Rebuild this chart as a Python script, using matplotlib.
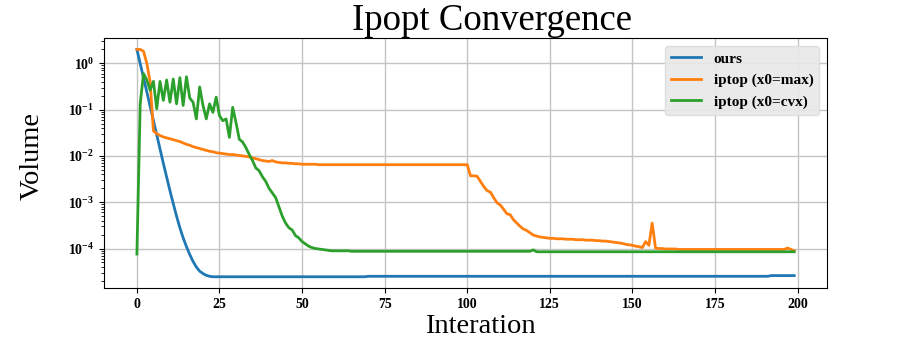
import numpy as np
import matplotlib
matplotlib.use('Agg')
import matplotlib.pyplot as plt

plt.rcParams['font.family'] = ['Liberation Serif', 'DejaVu Serif']
plt.rcParams['mathtext.fontset'] = 'custom'
plt.rcParams['mathtext.rm'] = 'Liberation Serif:bold'
plt.rcParams['mathtext.bf'] = 'Liberation Serif:bold'
plt.rcParams['mathtext.it'] = 'Liberation Serif:bold:italic'
plt.rcParams['mathtext.default'] = 'bf'

# 数据 (log10 of volume)
iters = np.arange(200)

ours_exp = [0.30, 0.00, -0.31, -0.62, -0.93, -1.24, -1.55, -1.86, -2.16, -2.46,
            -2.75, -3.03, -3.30, -3.55, -3.77, -3.96, -4.13, -4.28, -4.40, -4.49,
            -4.54, -4.58, -4.60, -4.61] \
           + [-4.61] * 46 + [-4.60] * 122 + [-4.585] * 8

xmax_exp = [0.30, 0.30, 0.26, 0.00, -0.40, -1.46, -1.52, -1.56, -1.59, -1.61,
            -1.63, -1.65, -1.67, -1.69, -1.72, -1.75, -1.77, -1.80, -1.82, -1.84,
            -1.86, -1.88, -1.90, -1.91, -1.93, -1.94, -1.95, -1.96, -1.97, -1.97,
            -1.98, -1.99, -2.00, -2.01, -2.02, -2.04, -2.06, -2.08, -2.10, -2.11,
            -2.12, -2.10, -2.13, -2.14, -2.15, -2.15, -2.16, -2.16, -2.17, -2.17,
            -2.18] \
           + [-2.18] * 4 + [-2.19] * 46 \
           + [-2.43, -2.43, -2.44, -2.55, -2.66, -2.75, -2.78, -2.90, -3.01, -3.06,
              -3.15, -3.25, -3.27, -3.38, -3.45, -3.52, -3.58, -3.61, -3.66, -3.71,
              -3.73, -3.75, -3.76, -3.77, -3.78] \
           + [-3.78, -3.79, -3.79, -3.79, -3.80, -3.80, -3.80, -3.81, -3.81, -3.81,
              -3.82, -3.82, -3.82, -3.83, -3.83, -3.84, -3.84, -3.85, -3.86, -3.87,
              -3.88, -3.89, -3.91, -3.92, -3.93, -3.95, -3.96, -3.98] \
           + [-3.85, -3.93, -3.45, -3.99, -4.00, -4.00, -4.01, -4.01, -4.01, -4.01,
              -4.02, -4.02] \
           + [-4.02] * 31 + [-3.99, -4.02, -4.05]

xcvx_exp = [-4.12, -0.875, -0.22, -0.36, -0.58, -0.39, -0.98, -0.39, -0.80, -0.36,
            -0.84, -0.34, -0.875, -0.31, -0.91, -0.29, -0.75, -0.84, -1.20, -0.51,
            -0.91, -1.20, -0.875, -1.06, -0.73, -1.13, -1.24, -1.20, -1.60, -0.95,
            -1.28, -1.64, -1.70, -1.82,
            -1.97, -2.10, -2.26, -2.32, -2.45, -2.55, -2.70, -2.80, -2.90, -3.10,
            -3.30, -3.45, -3.55, -3.60, -3.72, -3.77, -3.85, -3.90, -3.95, -3.98,
            -4.00, -4.01, -4.02, -4.03, -4.04] \
           + [-4.05] * 6 + [-4.06] * 55 + [-4.03] + [-4.07] * 79

labels = ['ours', 'iptop (x0=max)', 'iptop (x0=cvx)']

# 画图
fig = plt.figure(figsize=(9, 3.43), dpi=100)
ax = fig.add_axes([0.1156, 0.160, 0.8034, 0.729])

for e, lab in zip([ours_exp, xmax_exp, xcvx_exp], labels):
    ax.plot(iters, 10.0 ** np.array(e), linewidth=2, label=lab)

ax.set_yscale('log')
ax.grid(True, color='#c4c4c4', linewidth=1)
ax.set_axisbelow(True)

for t in ax.get_xticklabels() + ax.get_yticklabels():
    t.set_fontweight('bold')
ax.tick_params(labelsize=10)

ax.set_title('Ipopt Convergence', fontsize=26.5, x=0.537)
ax.set_xlabel('Interation', fontsize=20.5, x=0.52, labelpad=2)
ax.set_ylabel('Volume', fontsize=20.5, y=0.53, labelpad=17)

leg = ax.legend(loc='upper right', prop={'weight': 'bold', 'size': 11},
                facecolor='#e8e8e8', edgecolor='#dcdcdc', framealpha=0.9)

plt.savefig('out.png', dpi=100)
